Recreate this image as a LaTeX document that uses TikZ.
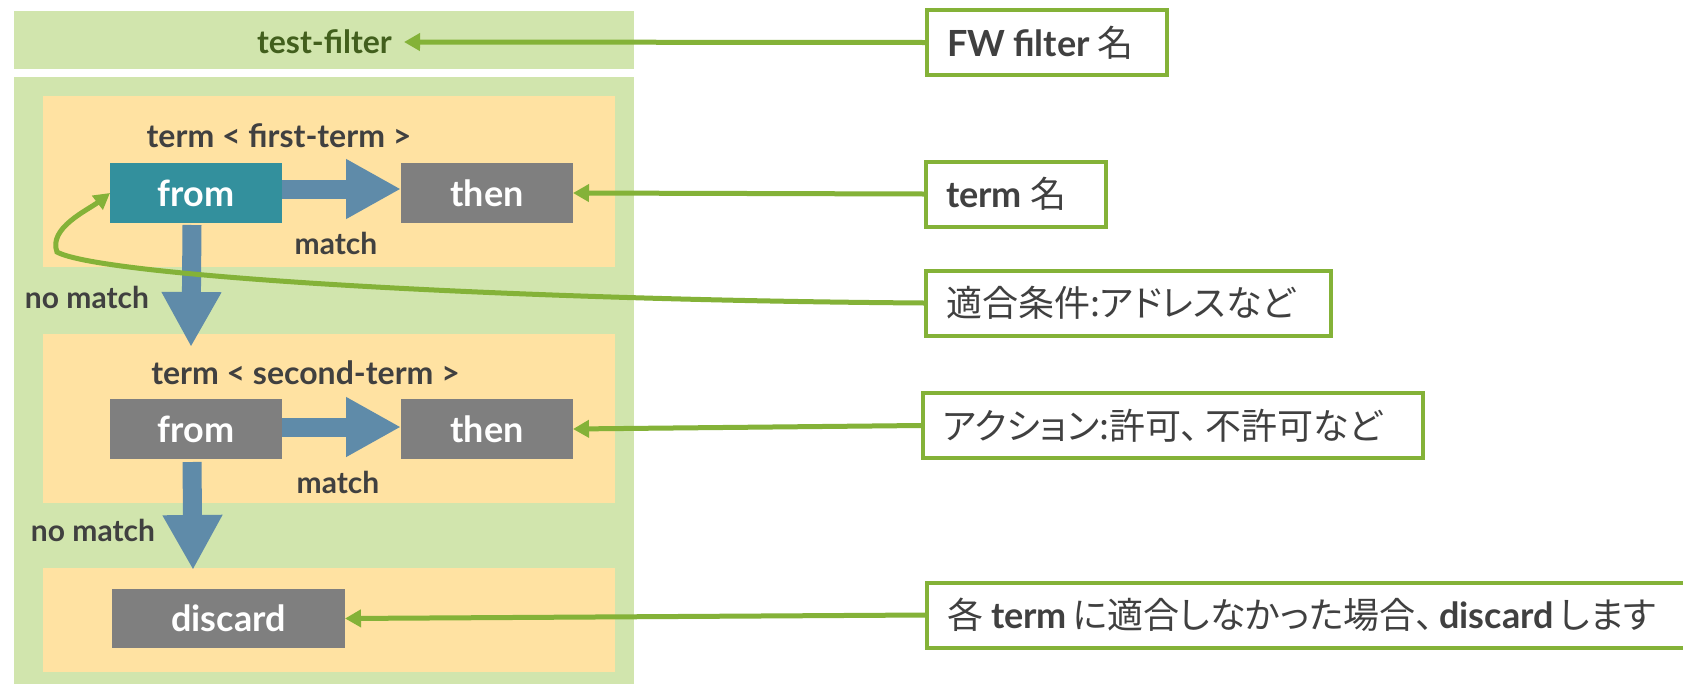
\documentclass[tikz,border=0pt]{standalone}
\usepackage{fontspec}
\setmainfont{Lato}
\newfontfamily\jp[RawFeature=+palt]{Noto Sans CJK JP}
\usetikzlibrary{arrows.meta}
\definecolor{bandgreen}{HTML}{D1E5AD}
\definecolor{termorange}{HTML}{FFE2A2}
\definecolor{tealbox}{HTML}{33909D}
\definecolor{graybox}{HTML}{7F7F7F}
\definecolor{flowblue}{HTML}{5F8BA9}
\definecolor{callgreen}{HTML}{84B238}
\definecolor{txtgray}{HTML}{404040}
\definecolor{darkgreen}{HTML}{425F1D}
\tikzset{
  box/.style={rectangle, inner sep=0pt, outer sep=0pt},
  band/.style={box, fill=bandgreen},
  termbg/.style={box, fill=termorange, minimum width=572pt},
  stepbox/.style={box, minimum width=172pt, minimum height=60pt, text=white, font=\bfseries\fontsize{36}{40}\selectfont},
  lbl/.style={inner sep=0pt, text=txtgray, font=\bfseries\fontsize{30}{32}\selectfont},
  termlbl/.style={lbl, font=\bfseries\fontsize{32}{34}\selectfont},
  callout/.style={draw=callgreen, line width=4pt, fill=white, inner ysep=0pt, inner xsep=20pt, minimum height=65pt, align=left, text=txtgray, font=\fontsize{36}{40}\selectfont},
  callarrow/.style={draw=callgreen, line width=5pt, -{Triangle[length=16pt,width=17pt]}},
  flowarrow/.style={draw=flowblue, line width=19pt, -{Triangle[length=55pt,width=56pt]}}
}
\begin{document}
\begin{tikzpicture}[x=1pt,y=-1pt]
\useasboundingbox (0,0) rectangle (1683,683);
\clip (0,0) rectangle (1683,683);
\fill[white] (0,0) rectangle (1683,683);
% bands
\node[band, minimum width=620pt, minimum height=58pt] (top) at (324,40) {};
\node[band, minimum width=620pt, minimum height=623pt] (main) at (324,388.5) {};
\node[termbg, minimum height=171pt] (t1) at (329,181.5) {};
\node[termbg, minimum height=169pt] (t2) at (329,418.5) {};
\node[termbg, minimum height=104pt] (t3) at (329,620) {};
% labels
\node[inner sep=0pt, anchor=east, text=darkgreen, font=\bfseries\fontsize{32}{34}\selectfont] (tf) at (392,42) {test-filter};
\node[termlbl] (n1) at (279,136) {term < first-term >};
\node[termlbl] (n2) at (305.5,373) {term < second-term >};
\node[lbl] (m1) at (336,243) {match};
\node[lbl] (m2) at (338,482) {match};
\node[lbl] (nm1) at (87,297) {no match};
\node[lbl] (nm2) at (93,530) {no match};
% step boxes
\node[stepbox, fill=tealbox] (from1) at (196,193) {from};
\node[stepbox, fill=graybox] (then1) at (487,193) {then};
\node[stepbox, fill=graybox] (from2) at (196,429) {from};
\node[stepbox, fill=graybox] (then2) at (487,429) {then};
\node[stepbox, fill=graybox, minimum width=233pt, minimum height=59pt] (disc) at (228.5,618.5) {discard};
% flow arrows
\coordinate (tip1) at (191,347);
\coordinate (tip2) at (193,570);
\draw[flowarrow] ([yshift=4pt]from1.east) -- ([yshift=4pt]then1.west);
\draw[flowarrow] ([yshift=2pt]from2.east) -- ([yshift=2pt]then2.west);
\draw[flowarrow] ([xshift=-4pt,yshift=-2pt]from1.south) -- (tip1);
\draw[flowarrow] ([xshift=-4pt,yshift=-3pt]from2.south) -- (tip2);
% callouts
\node[callout, text width=200pt] (fw) at (1047,42.5) {{\bfseries FW\hspace{8pt}filter}\hspace{8pt}{\jp 名}};
\node[callout, text width=140pt] (tn) at (1016,194) {{\bfseries term}\hspace{8pt}{\jp 名}};
\node[callout, text width=365pt] (cond) at (1128.5,303) {\jp 適合条件:アドレスなど};
\node[callout, text width=460pt] (act) at (1173,425.5) {\jp アクション:許可、\hspace{6pt}不許可など};
\node[callout, text width=753pt] (each) at (1323.5,615) {{\jp 各}\hspace{8pt}{\bfseries term}\hspace{6pt}{\jp に適合しなかった場合、}\hspace{6pt}{\bfseries discard}\hspace{6pt}{\jp します}};
% callout connectors
\draw[callarrow, shorten >=12pt] (fw.west) -- (tf.east);
\draw[callarrow] (tn.west) -- (then1.east);
\draw[callarrow] (act.west) -- (then2.east);
\draw[callarrow] (each.west) -- (disc.east);
\draw[callarrow] (cond.west) .. controls (500,300) and (100,276) .. (57,252) .. controls (48,228) and (88,210) .. (from1.west);
\end{tikzpicture}
\end{document}
